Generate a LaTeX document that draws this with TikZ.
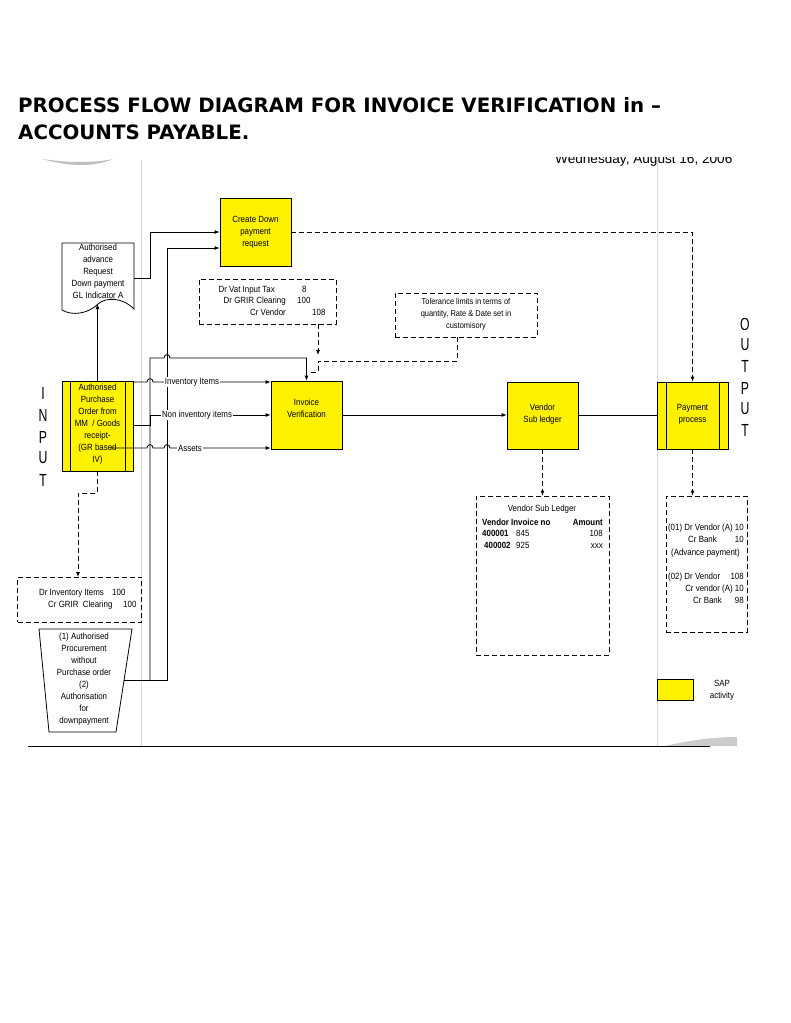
\documentclass[tikz,border=0pt]{standalone}
\usepackage{fontspec}
\setmainfont{Liberation Sans}
\newfontfamily\nar[FakeStretch=0.88]{Liberation Sans}
\newfontfamily\narw[FakeStretch=0.7]{Liberation Sans}
\newfontfamily\ttl{DejaVu Sans}
\usetikzlibrary{arrows.meta,calc}
\newcommand\smtxt{\nar\fontsize{9}{12}\selectfont}
\newcommand\lettxt{\narw\fontsize{17.5}{18}\selectfont}
\begin{document}
\begin{tikzpicture}[x=1pt,y=-1pt,
  sap/.style={draw, fill=yellow, line width=0.8pt, minimum width=71pt, minimum height=68pt, inner sep=0pt},
  txt/.style={font=\smtxt, align=center, inner sep=0pt},
  lt/.style={font=\smtxt, inner sep=0pt, anchor=base west},
  rt/.style={font=\smtxt, inner sep=0pt, anchor=base east},
  dbox/.style={draw, dash pattern=on 5pt off 3pt, line width=0.8pt, inner sep=0pt},
  dsh/.style={dash pattern=on 5pt off 3pt, line width=0.8pt},
  ln/.style={line width=0.8pt},
  arr/.style={-{Latex[length=5pt,width=4pt]}},
  lbl/.style={font=\smtxt, fill=white, inner sep=1pt},
  sepl/.style={draw=black!15, line width=0.8pt},
  letter/.style={font=\lettxt, inner sep=0pt}
]
\useasboundingbox (0,0) rectangle (791,1023);
\fill[white] (0,0) rectangle (791,1023);

% title
\node[anchor=base west, inner sep=0pt, font=\ttl\bfseries\fontsize{19.8}{27}\selectfont] (title1) at (18,112) {PROCESS FLOW DIAGRAM FOR INVOICE VERIFICATION in –};
\node[anchor=base west, inner sep=0pt, font=\ttl\bfseries\fontsize{19.8}{27}\selectfont] (title2) at (18,139) {ACCOUNTS PAYABLE.};

% clipped date
\begin{scope}
\clip (540,157) rectangle (791,170);
\node[anchor=base west, inner sep=0pt, font=\fontsize{13.6}{16}\selectfont] (date) at (555,163) {Wednesday, August 16, 2006};
\end{scope}

% swooshes and frame lines
\fill[black!25] (42,159) .. controls (70,167) and (95,167) .. (113,159) .. controls (95,163) and (70,163) .. (42,159) -- cycle;
\fill[black!20] (665,746) .. controls (690,740) and (715,737) .. (737,737) -- (737,746) -- cycle;
\draw[sepl] (141,160) -- (141,746);
\draw[sepl] (657,160) -- (657,746);
\draw[line width=1pt] (28,746) -- (710,746);

% INPUT / OUTPUT letters
\node[letter] (iI) at (43,393) {I};
\node[letter] (iN) at (43,415) {N};
\node[letter] (iP) at (43,437) {P};
\node[letter] (iU) at (43,458) {U};
\node[letter] (iT) at (43,480) {T};
\node[letter] (oO) at (745,324) {O};
\node[letter] (oU) at (745,345) {U};
\node[letter] (oT) at (745,366) {T};
\node[letter] (oP) at (745,388) {P};
\node[letter] (oU2) at (745,409) {U};
\node[letter] (oT2) at (745,430) {T};

% SAP boxes
\node[sap] (cdp) at (255.5,232) {};
\node[txt] (cdpt) at (255.5,232) {Create Down\\payment\\request};
\node[sap, minimum height=90pt] (po) at (97.5,426) {};
\draw[ln] ([xshift=9pt]po.north west) -- ([xshift=9pt]po.south west);
\draw[ln] ([xshift=-8pt]po.north east) -- ([xshift=-8pt]po.south east);
\node[txt] (pot) at (97.5,424.5) {Authorised\\Purchase\\Order from\\MM\ \ / Goods\\receipt-\\(GR based\\IV)};
\node[sap] (iv) at (306.5,415) {};
\node[txt] (ivt) at (306.5,408) {Invoice\\Verification};
\node[sap, minimum height=67pt] (vsl) at (542.5,415.5) {};
\node[txt] (vslt) at (542.5,414) {Vendor\\Sub ledger};
\node[sap, minimum height=67pt] (pay) at (692.5,415.5) {};
\draw[ln] ([xshift=10pt]pay.north west) -- ([xshift=10pt]pay.south west);
\draw[ln] ([xshift=-9pt]pay.north east) -- ([xshift=-9pt]pay.south east);
\node[txt] (payt) at (692.5,414) {Payment\\process};

% document shape
\node[minimum width=72pt, minimum height=66pt, inner sep=0pt] (doc) at (98,276) {};
\draw[ln, fill=white] (62,310) -- (62,243) -- (134,243) -- (134,309) .. controls (122,297) and (106,297) .. (98,304) .. controls (88,314) and (72,316) .. (62,310);
\node[txt] (doct) at (98,271) {Authorised\\advance\\Request\\Down payment\\GL Indicator A};
\coordinate (docb) at (97.5,304);

% trapezoid
\draw[ln] (39,629) -- (132,629) -- (116,732) -- (49,732) -- cycle;
\node[txt] (trapt) at (84,679.5) {(1) Authorised\\Procurement\\without\\Purchase order\\(2)\\Authorisation\\for\\downpayment};
\coordinate (trapr) at (123.7,680);

% dashed info boxes
\node[dbox, minimum width=137pt, minimum height=45pt] (vat) at (267.5,301.5) {};
\node[rt] (v1a) at (275,292) {Dr Vat Input Tax};
\node[lt] (v1b) at (302,292) {8};
\node[rt] (v2a) at (286,303) {Dr GRIR Clearing};
\node[lt] (v2b) at (297,303) {100};
\node[rt] (v3a) at (286,315) {Cr Vendor};
\node[lt] (v3b) at (312,315) {108};

\node[dbox, minimum width=142pt, minimum height=44pt] (tol) at (466,315) {};
\node[txt, font=\nar\fontsize{8.5}{12}\selectfont] (tolt) at (466,314) {Tolerance limits in terms of\\quantity, Rate \& Date set in\\customisory};

\node[dbox, minimum width=133pt, minimum height=159pt] (vlb) at (542.5,575.5) {};
\node[txt] (vlbt) at (542,509) {Vendor Sub Ledger};
\node[lt, font=\smtxt\bfseries] (h1) at (482,525) {Vendor};
\node[lt, font=\smtxt\bfseries] (h2) at (511,525) {Invoice no};
\node[rt, font=\smtxt\bfseries] (h3) at (603,525) {Amount};
\node[lt, font=\smtxt\bfseries] (r11) at (482,536.5) {400001};
\node[lt] (r12) at (516,536.5) {845};
\node[rt] (r13) at (603,536.5) {108};
\node[lt, font=\smtxt\bfseries] (r21) at (484,548.5) {400002};
\node[lt] (r22) at (516,548.5) {925};
\node[rt] (r23) at (603,548.5) {xxx};

\node[dbox, minimum width=81pt, minimum height=136pt] (pb) at (706.5,564) {};
\node[rt] (p1) at (744,530) {(01) Dr Vendor (A) 10};
\node[lt] (p2a) at (688,542) {Cr Bank};
\node[rt] (p2b) at (744,542) {10};
\node[rt] (p3) at (740,555) {(Advance payment)};
\node[lt] (p4a) at (668,579) {(02) Dr Vendor};
\node[rt] (p4b) at (744,579) {108};
\node[rt] (p5) at (744,591) {Cr vendor (A) 10};
\node[lt] (p6a) at (693,603) {Cr Bank};
\node[rt] (p6b) at (744,603) {98};

\node[dbox, minimum width=124pt, minimum height=45pt] (dib) at (79.5,599.5) {};
\node[lt] (d1a) at (39,595) {Dr Inventory Items};
\node[lt] (d1b) at (112,595) {100};
\node[lt] (d2a) at (48,607) {Cr GRIR\ \ Clearing};
\node[lt] (d2b) at (123,607) {100};

% legend
\node[sap, minimum width=36pt, minimum height=21pt] (leg) at (675,689.5) {};
\node[txt] (legt) at (722,690) {SAP\\activity};

% connectors
\draw[ln,arr] (po.north) -- (docb);
\draw[ln,arr] (doc.east |- 0,278) -- (150,278) -- (150,232) -- (cdp.west);
\draw[ln,arr] (trapr) -- (167,680) -- (167,248) -- (cdp.west |- 0,248);
\draw[ln,arr] (150,680) -- (150,358) -- (164,358) .. controls (164,353.5) and (170,353.5) .. (170,358) -- (iv.north |- 0,358) -- (iv.north);
\draw[ln,arr] (po.east |- 0,382) -- (147,382) .. controls (147,377.5) and (153,377.5) .. (153,382) -- (iv.west |- 0,382);
\draw[ln,arr] (po.east |- 0,425) -- (150,425) -- (150,415) -- (iv.west);
\draw[ln,arr] (110,448) -- (147,448) .. controls (147,443.5) and (153,443.5) .. (153,448) -- (164,448) .. controls (164,443.5) and (170,443.5) .. (170,448) -- (iv.west |- 0,448);
\node[lbl] (linv) at (192,382) {Inventory Items};
\node[lbl] (lnon) at (197,415) {Non inventory items};
\node[lbl] (lass) at (190,448) {Assets};

\draw[ln,arr] (iv.east) -- (vsl.west |- iv.east);
\draw[ln] (vsl.east |- iv.east) -- (pay.west |- iv.east);
\draw[dsh,arr] (cdp.east) -- (pay.north |- cdp.east) -- (pay.north);
\draw[dsh,arr] (vsl.south) -- (vlb.north);
\draw[dsh,arr] (pay.south) -- (pay.south |- pb.north);
\draw[dsh,arr] (po.south) -- (97.5,493) -- (78,493) -- (78,577);
\draw[dsh,arr] (vat.south -| 318,0) -- (318,355);
\draw[dsh] (tol.south -| 457,0) -- (457,361) -- (318,361) -- (318,372) -- (310,372);
\end{tikzpicture}
\end{document}
